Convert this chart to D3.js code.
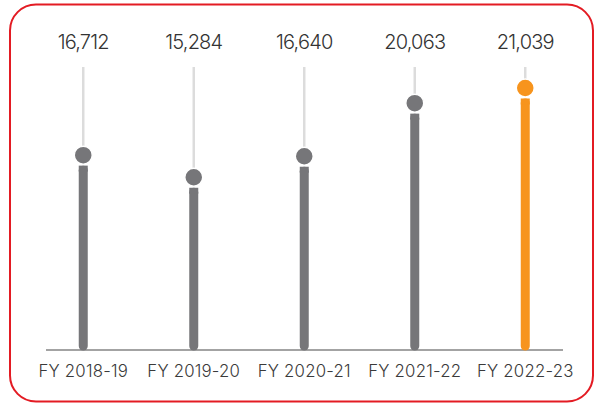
<!DOCTYPE html>
<html>
<head>
<meta charset="utf-8">
<script src="https://cdn.jsdelivr.net/npm/d3@7"></script>
<style>
  html, body { margin: 0; padding: 0; background: #fff; }
  svg { display: block; }
</style>
</head>
<body>
<svg id="chart" width="595" height="404"></svg>
<script>
// Yearly figures
const years = ["FY 2018-19", "FY 2019-20", "FY 2020-21", "FY 2021-22", "FY 2022-23"];
const values = [16712, 15284, 16640, 20063, 21039];
const valueLabels = ["16,712", "15,284", "16,640", "20,063", "21,039"];
const highlight = [false, false, false, false, true];

const svg = d3.select("#chart");

const baseY = 350;
const stemTop = 67;
const dotR = 9;

const x = d3.scaleBand().domain(years).range([28, 580.5]).padding(0);
const y = d3.scaleLinear().domain([4150, 21039]).range([baseY, 88]);

const grey = "#767679";
const orange = "#f7941d";

// Rounded red frame
svg.append("rect")
  .attr("x", 10).attr("y", 4.5)
  .attr("width", 583).attr("height", 397)
  .attr("rx", 26).attr("ry", 26)
  .attr("fill", "none")
  .attr("stroke", "#e31b23")
  .attr("stroke-width", 2);

const data = years.map((c, i) => ({ c, v: values[i], label: valueLabels[i], hi: highlight[i] }));
const cx = d => x(d.c) + x.bandwidth() / 2;

// Light stems from the label down to each dot
svg.selectAll(".stem").data(data).join("line")
  .attr("class", "stem")
  .attr("x1", cx).attr("x2", cx)
  .attr("y1", stemTop).attr("y2", d => y(d.v))
  .attr("stroke", "#dcdcdc")
  .attr("stroke-width", 2.5);

// Baseline
svg.append("line")
  .attr("x1", 46).attr("x2", 563)
  .attr("y1", baseY).attr("y2", baseY)
  .attr("stroke", "#a3a3a3")
  .attr("stroke-width", 2);

// Bars from dot to baseline
svg.selectAll(".bar").data(data).join("rect")
  .attr("class", "bar")
  .attr("x", d => cx(d) - 4.5)
  .attr("width", 9)
  .attr("y", d => y(d.v) + dotR + 1.5)
  .attr("height", d => baseY + 0.5 - (y(d.v) + dotR + 1.5))
  .attr("rx", 4.5)
  .attr("fill", d => d.hi ? orange : grey);

// Square off the top of each bar (only the bottom end is rounded)
svg.selectAll(".bartop").data(data).join("rect")
  .attr("class", "bartop")
  .attr("x", d => cx(d) - 4.5)
  .attr("width", 9)
  .attr("y", d => y(d.v) + dotR + 1.5)
  .attr("height", 6)
  .attr("fill", d => d.hi ? orange : grey);

// Dots
svg.selectAll(".dot").data(data).join("circle")
  .attr("class", "dot")
  .attr("cx", cx)
  .attr("cy", d => y(d.v))
  .attr("r", dotR)
  .attr("fill", d => d.hi ? orange : grey)
  .attr("stroke", "#fff")
  .attr("stroke-width", 1.5);

// Value labels
svg.selectAll(".val").data(data).join("text")
  .attr("class", "val")
  .attr("x", cx)
  .attr("y", 49)
  .attr("text-anchor", "middle")
  .attr("font-family", "Inter, 'Open Sans', sans-serif")
  .attr("font-weight", 300)
  .attr("font-size", 20)
  .attr("letter-spacing", -0.8)
  .attr("fill", "#333")
  .text(d => d.label);

// Category labels
svg.selectAll(".cat").data(data).join("text")
  .attr("class", "cat")
  .attr("x", cx)
  .attr("y", 377.3)
  .attr("text-anchor", "middle")
  .attr("font-family", "Inter, 'Open Sans', sans-serif")
  .attr("font-weight", 300)
  .attr("font-size", 16.8)
  .attr("letter-spacing", 0.2)
  .attr("fill", "#3a3a3a")
  .text(d => d.c);
</script>
</body>
</html>
